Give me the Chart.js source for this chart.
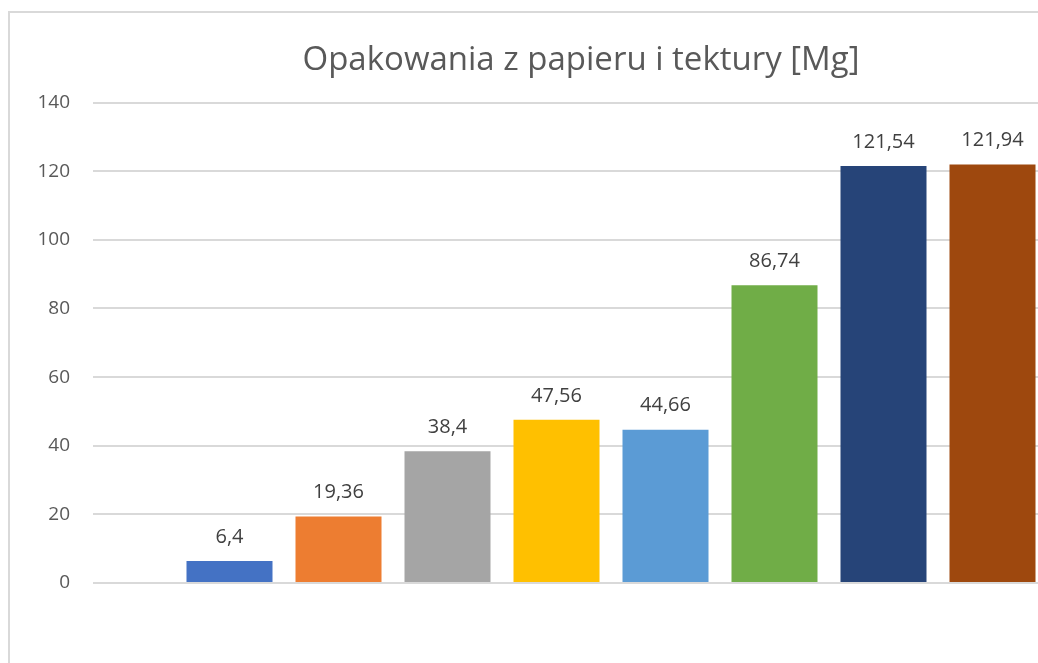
<!DOCTYPE html>
<html>
<head>
<meta charset="utf-8">
<script src="https://cdn.jsdelivr.net/npm/chart.js@4"></script>
<style>
  html, body { margin: 0; padding: 0; background: #fff; overflow: hidden; }
  #frame { position: absolute; left: 8px; top: 11px; width: 1300px; height: 900px; border: 2px solid #d9d9d9; }
  #wrap { position: absolute; left: 0; top: 0; width: 1162px; height: 663px; }
</style>
</head>
<body>
<div id="frame"></div>
<div id="wrap"><canvas id="chart"></canvas></div>
<script>
const seriesNames = ['1', '2', '3', '4', '5', '6', '7', '8']
const values = [6.4, 19.36, 38.4, 47.56, 44.66, 86.74, 121.54, 121.94]
const colors = ['#4472C4', '#ED7D31', '#A5A5A5', '#FFC000', '#5B9BD5', '#70AD47', '#264478', '#9E480E']
const yTicks = [0, 20, 40, 60, 80, 100, 120, 140]

const fontFamily = "'Open Sans', 'Noto Sans', sans-serif"

// value labels above bars, polish decimal comma
const valueLabels = {
    id: 'valueLabels',
    afterDatasetsDraw(chart) {
        const ctx = chart.ctx
        ctx.save()
        ctx.font = '20px ' + fontFamily
        ctx.fillStyle = '#404040'
        ctx.textAlign = 'center'
        ctx.textBaseline = 'middle'
        chart.data.datasets.forEach((ds, i) => {
            const bar = chart.getDatasetMeta(i).data[0]
            ctx.fillText(String(ds.data[0]).replace('.', ','), bar.x, bar.y - 24)
        })
        ctx.restore()
    }
}

const datasets = seriesNames.map((name, i) => ({
    label: name,
    data: [values[i]],
    backgroundColor: colors[i],
    borderWidth: 0,
    categoryPercentage: 0.8417,
    barPercentage: 0.789,
}))

new Chart(document.getElementById('chart'), {
    type: 'bar',
    data: { labels: [''], datasets: datasets },
    plugins: [valueLabels],
    options: {
        responsive: true,
        maintainAspectRatio: false,
        animation: false,
        layout: { padding: { left: 0, right: 0, top: 0, bottom: 80 } },
        plugins: {
            legend: { display: false },
            tooltip: { enabled: false },
            title: {
                display: true,
                text: 'Opakowania z papieru i tektury [Mg]',
                color: '#595959',
                font: { family: fontFamily, size: 33, weight: 'normal' },
                padding: { top: 41, bottom: 22 },
            }
        },
        scales: {
            x: { display: false },
            y: {
                min: 0,
                max: 140,
                afterBuildTicks: (scale) => { scale.ticks = yTicks.map(v => ({ value: v })) },
                afterFit: (scale) => { scale.width = 93 },
                border: { display: false },
                grid: { color: '#d9d9d9', lineWidth: 2, drawTicks: false },
                ticks: {
                    color: '#595959',
                    padding: 23,
                    font: { family: fontFamily, size: 19 },
                }
            },
            // empty right-hand spacer so the plot ends where the original does
            spacer: {
                position: 'right',
                min: 0,
                max: 140,
                afterFit: (scale) => { scale.width = 33 },
                border: { display: false },
                grid: { display: false },
                ticks: { display: false },
            }
        }
    }
})
</script>
</body>
</html>
